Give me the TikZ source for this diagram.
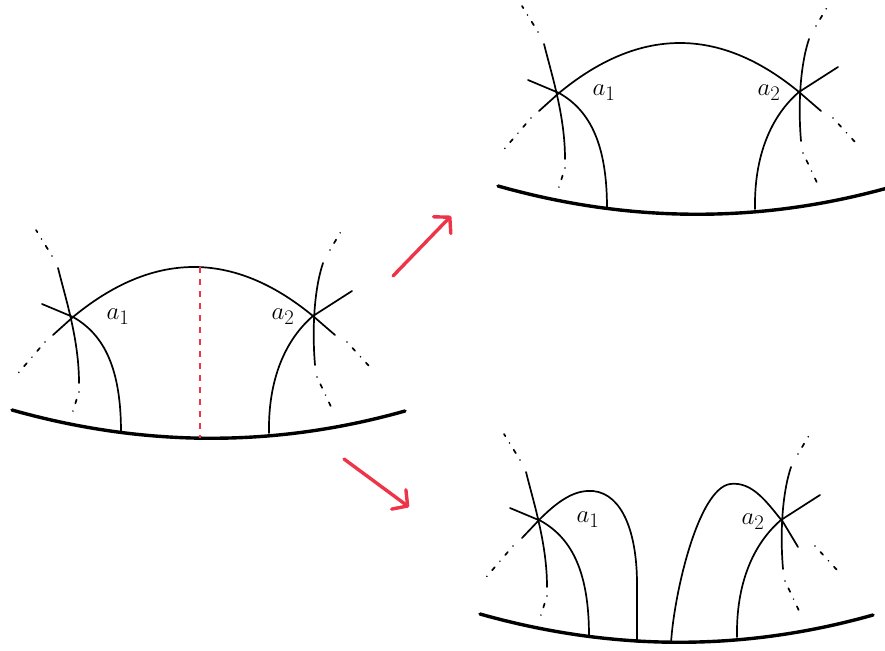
\documentclass[tikz,border=0pt]{standalone}
\usepackage{amsmath}
\usepackage{tikz}
\usetikzlibrary{arrows.meta}
\definecolor{cutred}{RGB}{238,52,72}
\tikzset{
  strand/.style={line width=1.7pt,line cap=round},
  boundary/.style={line width=3.4pt,line cap=round},
  ghost/.style={line width=1.7pt,line cap=round,dash pattern=on 0pt off 8pt on 4pt off 8pt},
  cutline/.style={cutred,line width=1.7pt,dash pattern=on 6pt off 6pt},
  move/.style={cutred,line width=3.4pt,line cap=round,
    -{Straight Barb[length=11pt,width=24pt,round]}},
  lbl/.style={font=\fontsize{28}{30}\selectfont,inner sep=0pt}
}
% boundary and the two crossings, shared by all three pictures
\newcommand{\skeleton}{%
  \draw[boundary] (12,410) .. controls (143,447) and (274,448) .. (405,411);
  % crossing at a_1
  \draw[strand] (58,268) .. controls (66,300) and (79,340) .. (79,383);
  \draw[strand] (42,304) -- (73,317) .. controls (105,335) and (121,370) .. (121,432);
  \draw[ghost] (52,256) -- (36,230);
  \draw[ghost] (79,392) -- (72,414);
  \draw[ghost] (45,342) -- (14,378);
  % crossing at a_2
  \draw[strand] (323,263) .. controls (314,290) and (312,330) .. (315,365);
  \draw[strand] (269,433) .. controls (268,380) and (285,340) .. (313,316) -- (352,291);
  \draw[ghost] (330,250) -- (343,228);
  \draw[ghost] (317,377) -- (333,411);
  \draw[ghost] (347,342) -- (369,366);
}
\newcommand{\toparc}{%
  \draw[strand] (53,335) -- (73,317) .. controls (153,251) and (233,250) .. (313,316) -- (335,335);
}

\begin{document}
\begin{tikzpicture}[x=1pt,y=-1pt]
  \path[use as bounding box] (0,0) rectangle (885,650);
  \clip (0,0) rectangle (885,650);

  % before the cut
  \skeleton
  \toparc
  \draw[cutline] (200,267) -- (200,438);
  \node[lbl] (la1) at (118,317) {$a_1$};
  \node[lbl] (la2) at (283,317) {$a_2$};

  % the arc kept
  \begin{scope}[shift={(486,-224)}]
    \skeleton
    \toparc
    \node[lbl] (ua1) at (118,317) {$a_1$};
    \node[lbl] (ua2) at (283,317) {$a_2$};
  \end{scope}

  % the arc cut open
  \begin{scope}[shift={(468,204)}]
    \skeleton
    \draw[strand] (54,334) -- (72,315) .. controls (95,292) and (110,286) .. (125,287)
      .. controls (155,290) and (169,330) .. (169,380) -- (169,438);
    \draw[strand] (203,439) .. controls (206,390) and (230,285) .. (262,280)
      .. controls (285,277) and (300,300) .. (315,318) -- (330,343);
    \node[lbl] (da1) at (120,316) {$a_1$};
    \node[lbl] (da2) at (285,318) {$a_2$};
  \end{scope}

  \coordinate (uptail) at (393,276);
  \coordinate (uphead) at (451,216);
  \coordinate (dntail) at (344,459);
  \coordinate (dnhead) at (409,507);
  \draw[move] (uptail) -- (uphead);
  \draw[move] (dntail) -- (dnhead);
\end{tikzpicture}
\end{document}
